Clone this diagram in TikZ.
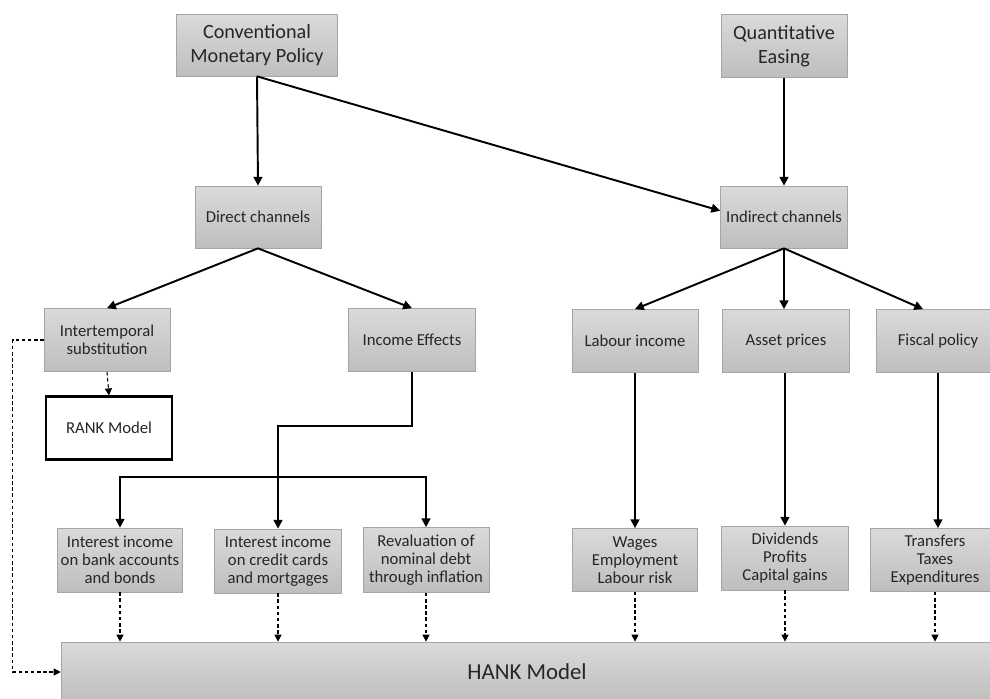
\documentclass[tikz,border=0pt]{standalone}
\usepackage{fontspec}
\setmainfont{Carlito}
\usetikzlibrary{arrows.meta,calc}
\definecolor{boxtop}{RGB}{218,218,218}
\definecolor{boxbot}{RGB}{190,190,190}
\definecolor{boxline}{RGB}{165,165,165}
\definecolor{txt}{RGB}{38,38,38}

\begin{document}
\begin{tikzpicture}[
  x=0.02cm, y=-0.02cm,
  >={Triangle[length=5pt,width=5pt]},
  blk/.style={draw=boxline, top color=boxtop, bottom color=boxbot, text=txt,
              minimum width=2.52cm, minimum height=1.26cm, inner sep=1pt,
              align=center, font=\fontsize{9.5}{10.4}\selectfont},
  big/.style={blk, font=\fontsize{11.5}{13.6}\selectfont},
  rnk/.style={draw=black, line width=1.2pt, fill=white, text=txt,
              minimum width=2.52cm, minimum height=1.26cm,
              align=center, font=\fontsize{9.5}{10.4}\selectfont},
  arr/.style={->, line width=1.1pt},
  darr/.style={-{Triangle[length=4pt,width=4pt]}, line width=0.6pt,
               dash pattern=on 2pt off 1.5pt},
]
\useasboundingbox (0,0) rectangle (990,699);

%% ====================================================
%% Policy instruments
%% ====================================================
\node[big, minimum width=3.22cm, minimum height=1.24cm] (cmp) at (257,45) {Conventional\\Monetary Policy};
\node[big, minimum height=1.26cm] (qe) at (784,46) {Quantitative\\Easing};

%% Channels
\node[blk, minimum height=1.24cm] (direct) at (258,217) {Direct channels};
\node[blk, minimum width=2.54cm, minimum height=1.24cm] (indirect) at (784,217) {Indirect channels};

\draw[arr] (cmp.south) -- (direct.north);
\draw[arr] (cmp.south) -- ($(indirect.north west)!0.4!(indirect.south west)$);
\draw[arr] (qe.south) -- (indirect.north);

%% ====================================================
%% Second level
%% ====================================================
\node[blk] (inter) at (107,340) {Intertemporal\\substitution};
\node[rnk] (rank) at (109,428) {RANK Model};
\node[blk, minimum width=2.54cm] (income) at (412,340) {Income Effects};
\node[blk] (labour) at (635,341) {Labour income};
\node[blk, minimum width=2.54cm] (asset) at (786,341) {Asset prices};
\node[blk, minimum width=2.48cm] (fiscal) at (938,341) {Fiscal policy};

\draw[arr] (direct.south) -- (inter.north);
\draw[arr] (direct.south) -- (income.north);
\draw[arr] (indirect.south) -- (labour.north);
\draw[arr] (indirect.south) -- (indirect.south |- asset.north);
\draw[arr] (indirect.south) -- ($(fiscal.north west)!0.38!(fiscal.north east)$);
\draw[darr] (inter.south) -- (rank.north);

%% ====================================================
%% Third level
%% ====================================================
\node[blk, minimum width=2.5cm, minimum height=1.28cm] (bank) at (120,560) {Interest income\\on bank accounts\\and bonds};
\node[blk, minimum width=2.54cm, minimum height=1.28cm] (credit) at (278,561) {Interest income\\on credit cards\\and mortgages};
\node[blk, minimum height=1.3cm] (reval) at (426,560) {Revaluation of\\nominal debt\\through inflation};
\node[blk, minimum width=2.5cm] (wages) at (635,560) {Wages\\Employment\\Labour risk};
\node[blk, minimum width=2.54cm, minimum height=1.28cm] (divid) at (785,558) {Dividends\\Profits\\Capital gains};
\node[blk, minimum width=2.6cm] (transf) at (935,560) {Transfers\\Taxes\\Expenditures};

%% Income effects split into three
\coordinate (split) at (278,477);
\draw[arr] (income.south) -- ++(0,54) -| (credit.north);
\draw[arr] (split) -| (bank.north);
\draw[arr] (split) -| (reval.north);

\draw[arr] (labour.south) -- (wages.north);
\draw[arr] (divid.north |- asset.south) -- (divid.north);
\draw[arr] (fiscal.south) -- (fiscal.south |- transf.north);

%% ====================================================
%% HANK
%% ====================================================
\node[blk, minimum width=18.64cm, minimum height=1.2cm, font=\fontsize{13}{15}\selectfont] (hank) at (527,672) {HANK Model};

\foreach \b in {bank,credit,reval,wages,divid,transf} {
  \draw[darr] (\b.south) -- (\b.south |- hank.north);
}
\draw[darr] (inter.west) -- ++(-31,0) |- (hank.west);

\end{tikzpicture}
\end{document}
